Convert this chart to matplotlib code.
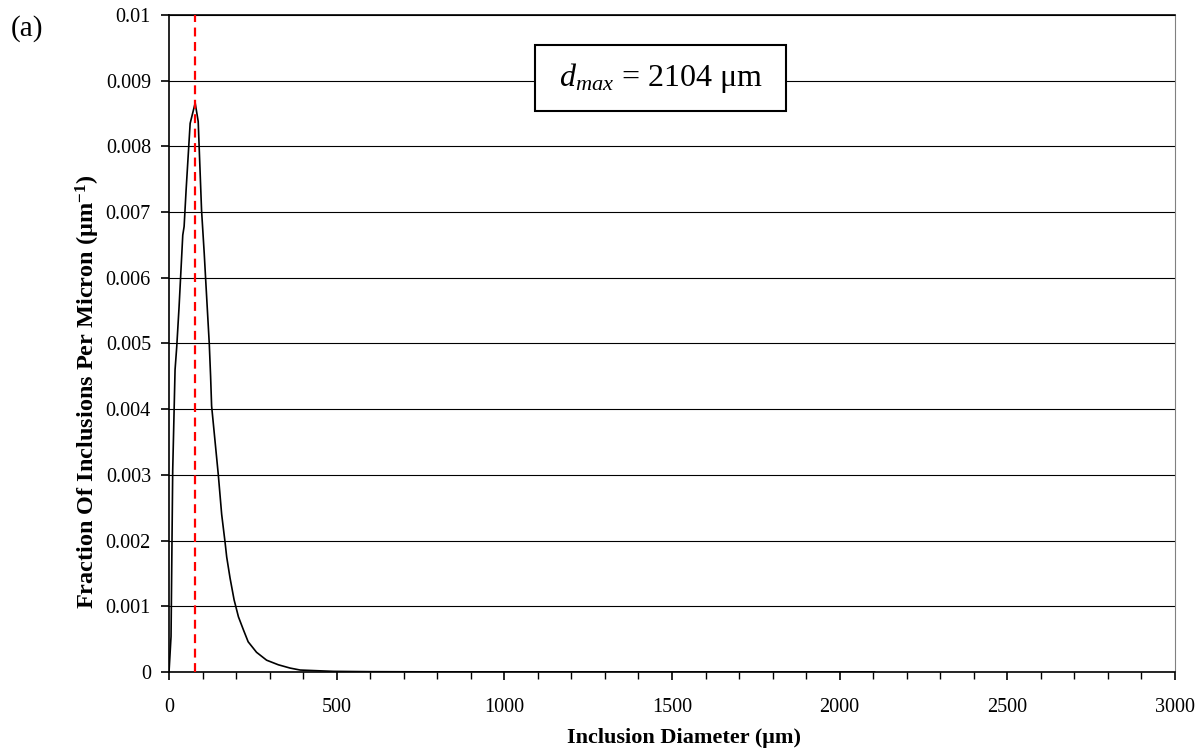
import matplotlib
matplotlib.use("Agg")
import matplotlib.pyplot as plt
from matplotlib.patches import Rectangle
import numpy as np

plt.rcParams['font.family'] = ['Liberation Serif', 'DejaVu Serif']
plt.rcParams['mathtext.fontset'] = 'custom'
plt.rcParams['mathtext.rm'] = 'Liberation Serif'
plt.rcParams['mathtext.it'] = 'Liberation Serif:italic'
plt.rcParams['mathtext.bf'] = 'Liberation Serif:bold'

# inclusion size distribution (diameter in um, fraction per um)
diameter = [0, 6, 11, 18, 23, 30, 41, 45, 51, 63, 78, 87, 97, 105, 109, 120, 124,
            127, 147, 157, 167, 172, 182, 194, 207, 222, 236, 261, 271, 291, 301,
            326, 361, 391, 440, 490, 600, 800, 1000, 1500, 2104]
fraction = [0.0, 0.00054, 0.00307, 0.00460, 0.00495, 0.00556, 0.00665, 0.00678,
            0.00734, 0.00835, 0.00866, 0.00838, 0.00703, 0.00637, 0.00600,
            0.00500, 0.00450, 0.00405, 0.00300, 0.00240, 0.00198, 0.00175,
            0.00143, 0.00110, 0.00084, 0.00064, 0.00046, 0.00030, 0.00026,
            0.00018, 0.00016, 0.00011, 0.00006, 0.00003, 0.00002, 0.00001,
            0.000005, 0.000002, 0.000001, 0.0000005, 0.0]
d_peak = 78
d_max = 2104

fig = plt.figure(figsize=(12.03, 7.56), dpi=100)
ax = fig.add_axes([0.1405, 0.1111, 0.8362, 0.8691])

ax.set_xlim(0, 3000)
ax.set_ylim(0, 0.01)
ax.set_xticks(np.arange(0, 3001, 500))
ax.set_xticks(np.arange(0, 3001, 100), minor=True)
ax.set_yticks(np.arange(0, 0.01001, 0.001))
ax.set_yticklabels(['0', '0.001', '0.002', '0.003', '0.004', '0.005',
                    '0.006', '0.007', '0.008', '0.009', '0.01'])
ax.grid(axis='y', color='black', linewidth=0.8)
ax.set_axisbelow(True)

ax.plot(diameter, fraction, color='black', linewidth=1.2, zorder=3)
ax.axvline(d_peak, color='#ff0000', linestyle=(0, (4, 2.5)), linewidth=1.6, zorder=4)

ax.tick_params(axis='both', which='major', direction='out', length=6, width=1.2,
               labelsize=14.5, pad=7)
ax.tick_params(axis='x', which='minor', direction='out', length=5, width=1.0)
ax.tick_params(axis='x', which='major', pad=13)
for side in ['left', 'bottom', 'top']:
    ax.spines[side].set_linewidth(1.2)
ax.spines['right'].set_color('#808080')
ax.spines['right'].set_linewidth(0.8)

ax.set_xlabel('Inclusion Diameter (μm)', fontsize=16, fontweight='bold', va='top')
ax.xaxis.set_label_coords(0.512, -0.085)
ax.set_ylabel(r'Fraction Of Inclusions Per Micron (μm$^{\mathbf{-1}}$)',
              fontsize=17.5, fontweight='bold')
ax.yaxis.set_label_coords(-0.0665, 0.426)

# annotation box with the largest inclusion size
ax.add_patch(Rectangle((0.3638, 0.8539), 0.2495, 0.1004, transform=ax.transAxes,
                       facecolor='white', edgecolor='black', linewidth=1.5,
                       zorder=5))
ax.text(0.4886, 0.904, r'$d_{max}$ = %d μm' % d_max, transform=ax.transAxes,
        fontsize=23, ha='center', va='center', zorder=6)

fig.text(0.009, 0.962, '(a)', fontsize=21, ha='left', va='center')

fig.savefig('out.png', dpi=100)
